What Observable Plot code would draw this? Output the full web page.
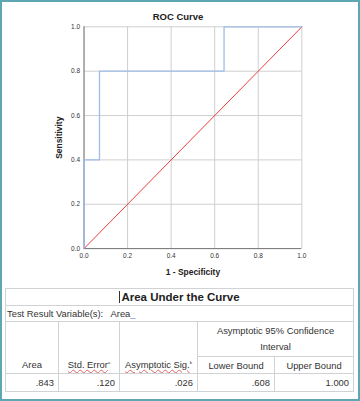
<!DOCTYPE html>
<html>
<head>
<meta charset="utf-8">
<script src="https://cdn.jsdelivr.net/npm/d3@7"></script>
<script src="https://cdn.jsdelivr.net/npm/@observablehq/plot@0.6"></script>
<style>
  html, body { margin: 0; padding: 0; background: #fff; }
  #wrap { position: relative; width: 360px; height: 401px; box-sizing: border-box; border: 2px solid #5fa6b3; overflow: hidden; font-family: "Liberation Sans", Arial, sans-serif; }
  #chart { position: absolute; left: -2px; top: -2px; }
  #title { position: absolute; left: -2px; top: 9px; width: 356px; text-align: center; font-weight: bold; font-size: 9.5px; color: #222; }
  table { position: absolute; left: 3px; top: 286px; width: 348px; border-collapse: collapse; table-layout: fixed; font-size: 9.4px; color: #333; }
  td { border: 1px solid #cfd3d6; padding: 0 3px; white-space: nowrap; overflow: hidden; }
  .ttl { height: 16px; text-align: center; font-weight: bold; font-size: 11.5px; color: #222; }
  .cursor { display: inline-block; width: 0; height: 12px; border-left: 1px solid #333; vertical-align: -2px; margin-right: 1px; }
  .var { height: 15px; text-align: left; padding-left: 1px; }
  .sq { text-decoration: underline wavy #e06060; text-decoration-thickness: 0.5px; }
  .hdr { text-align: center; vertical-align: bottom; padding-bottom: 3px; }
  .span { text-align: center; line-height: 16px; height: 33px; vertical-align: top; padding-top: 1px; }
  .sub { text-align: center; height: 16px; }
  .val { text-align: right; height: 17px; padding-right: 4px; }
  sup { font-size: 4px; vertical-align: 4px; }
</style>
</head>
<body>
<div id="wrap">
  <div id="chart"></div>
  <div id="title">ROC Curve</div>
  <div id="tbl"></div>
</div>
<script>
// ROC curve points (1 - Specificity, Sensitivity)
const fpr = [0, 0, 0.071, 0.071, 0.643, 0.643, 1];
const tpr = [0, 0.4, 0.4, 0.8, 0.8, 1, 1];
// reference (chance) line
const refX = [0, 1];
const refY = [0, 1];
const tickValues = [0, 0.2, 0.4, 0.6, 0.8, 1.0];

// table content
const tableTitle = "Area Under the Curve";
const testVarLabel = "Test Result Variable(s):";
const testVar = "Area";
const spanHeader = ["Asymptotic 95% Confidence", "Interval"];
const colHeaders = ["Area", "Std. Error", "Asymptotic Sig.", "Lower Bound", "Upper Bound"];
const colSup = ["", "a", "b", "", ""];
const rowValues = [".843", ".120", ".026", ".608", "1.000"];

const roc = fpr.map((x, i) => ({x, y: tpr[i]}));
const ref = refX.map((x, i) => ({x, y: refY[i]}));

const plot = Plot.plot({
  width: 360,
  height: 282,
  marginLeft: 84,
  marginRight: 57,
  marginTop: 26.5,
  marginBottom: 32.5,
  style: {fontFamily: "Liberation Sans, Arial, sans-serif", background: "transparent", color: "#333"},
  x: {domain: [0, 1]},
  y: {domain: [0, 1]},
  marks: [
    Plot.gridX(tickValues, {stroke: "#cfcfcf", strokeOpacity: 1}),
    Plot.gridY(tickValues, {stroke: "#cfcfcf", strokeOpacity: 1}),
    Plot.axisX(tickValues, {tickFormat: d3.format(".1f"), tickSize: 0, tickPadding: 5, fontSize: 6.5,
      label: "1 - Specificity", labelAnchor: "center", labelArrow: false, labelOffset: 27}),
    Plot.axisY(tickValues, {tickFormat: d3.format(".1f"), tickSize: 0, tickPadding: 4, fontSize: 6.5,
      label: "Sensitivity", labelAnchor: "center", labelArrow: false, labelOffset: 28}),
    Plot.ruleX([0], {stroke: "#777", strokeWidth: 1}),
    Plot.ruleY([0], {stroke: "#777", strokeWidth: 1}),
    Plot.line(ref, {x: "x", y: "y", stroke: "#ee3b3b", strokeWidth: 1}),
    Plot.line(roc, {x: "x", y: "y", stroke: "#9fbde8", strokeWidth: 1.3})
  ]
});
// bold axis labels
plot.querySelectorAll("g[aria-label='x-axis label'] text, g[aria-label='y-axis label'] text").forEach(t => {
  t.setAttribute("font-weight", "bold");
  t.setAttribute("font-size", "8.5");
  t.setAttribute("fill", "#222");
});
document.getElementById("chart").append(plot);

// build table
let html = "<table><colgroup><col style='width:53px'><col style='width:61px'><col style='width:78px'><col style='width:77px'><col style='width:79px'></colgroup>";
html += `<tr><td colspan="5" class="ttl"><span class="cursor"></span>${tableTitle}</td></tr>`;
html += `<tr><td colspan="5" class="var">${testVarLabel}&nbsp;&nbsp; ${testVar}<span style="color:#6a8fd0">_</span></td></tr>`;
html += "<tr>";
for (let i = 0; i < 3; i++) {
  const cls = colSup[i] ? "sq" : "";
  html += `<td rowspan="2" class="hdr"><span class="${cls}">${colHeaders[i]}</span>${colSup[i] ? "<sup>" + colSup[i] + "</sup>" : ""}</td>`;
}
html += `<td colspan="2" class="span">${spanHeader[0]}<br>${spanHeader[1]}</td></tr>`;
html += `<tr><td class="sub">${colHeaders[3]}</td><td class="sub">${colHeaders[4]}</td></tr>`;
html += "<tr>" + rowValues.map(v => `<td class="val">${v}</td>`).join("") + "</tr>";
html += "</table>";
document.getElementById("tbl").innerHTML = html;
</script>
</body>
</html>
